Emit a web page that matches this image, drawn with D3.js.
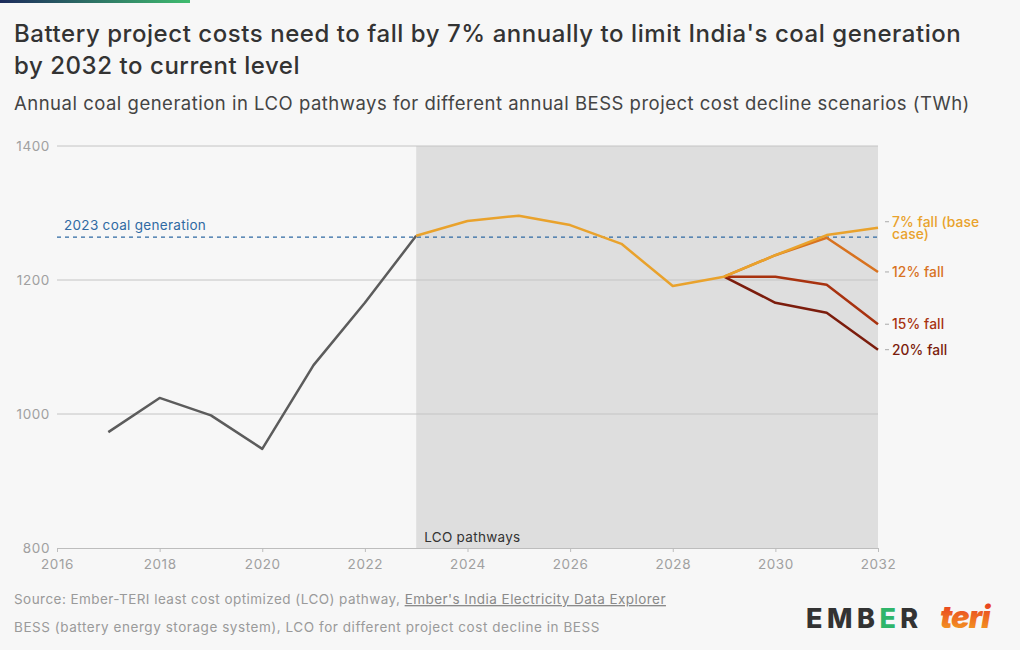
<!DOCTYPE html>
<html><head><meta charset="utf-8">
<script src="https://cdn.jsdelivr.net/npm/d3@7"></script>
<style>
body{margin:0;background:#f7f7f7;}
svg{display:block;font-family:Inter, "Noto Sans", sans-serif;}
</style></head><body>
<svg id="c" width="1020" height="650"></svg>
<script>
const histYears = [2017,2018,2019,2020,2021,2022,2023];
const histValues = [973,1024,998,948,1073,1166,1266];
const scenarioYears = [2023,2024,2025,2026,2027,2028,2029,2030,2031,2032];
const fall7 = [1266,1288,1296,1282,1254,1191,1205,1237,1267,1278];
const fall12Years = [2029,2030,2031,2032];
const fall12 = [1205,1237,1263,1212];
const fall15Years = [2029,2030,2031,2032];
const fall15 = [1205,1205,1193,1134];
const fall20Years = [2029,2030,2031,2032];
const fall20 = [1205,1166,1151,1096];
const coal2023 = 1264;
const yTicks = [800,1000,1200,1400];
const xTicks = [2016,2018,2020,2022,2024,2026,2028,2030,2032];

const svg = d3.select("#c");
const x = d3.scaleLinear().domain([2016,2032]).range([57,878]);
const y = d3.scaleLinear().domain([800,1400]).range([548,146]);

// top gradient bar
const defs = svg.append("defs");
const g = defs.append("linearGradient").attr("id","tg");
g.append("stop").attr("offset","0%").attr("stop-color","#1d2b5c");
g.append("stop").attr("offset","100%").attr("stop-color","#3fbc6f");
svg.append("rect").attr("x",0).attr("y",0).attr("width",190).attr("height",3).attr("fill","url(#tg)");
const tg2 = defs.append("linearGradient").attr("id","teri").attr("x1","0").attr("y1","0").attr("x2","0").attr("y2","1");
tg2.append("stop").attr("offset","0%").attr("stop-color","#e62d1f");
tg2.append("stop").attr("offset","100%").attr("stop-color","#f5a623");

// titles
svg.append("text").attr("x",14).attr("y",42).attr("font-size",24).attr("font-weight",500).attr("letter-spacing",0.55).attr("fill","#333").text("Battery project costs need to fall by 7% annually to limit India's coal generation");
svg.append("text").attr("x",14).attr("y",74).attr("font-size",24).attr("font-weight",500).attr("letter-spacing",0.55).attr("fill","#333").text("by 2032 to current level");
svg.append("text").attr("x",14).attr("y",110).attr("font-size",18.5).attr("font-weight",400).attr("letter-spacing",0.5).attr("fill","#444").text("Annual coal generation in LCO pathways for different annual BESS project cost decline scenarios (TWh)");

// shaded region
svg.append("rect").attr("x",x(2023)).attr("y",y(1400)).attr("width",x(2032)-x(2023)).attr("height",y(800)-y(1400)).attr("fill","#dedede");

// gridlines
svg.append("g").selectAll("line").data(yTicks.filter(d=>d>800)).join("line")
 .attr("x1",57).attr("x2",878).attr("y1",d=>y(d)).attr("y2",d=>y(d)).attr("stroke","#c4c4c4").attr("stroke-width",1);
svg.append("g").selectAll("text").data(yTicks).join("text")
 .attr("x",50).attr("y",d=>y(d)+5).attr("text-anchor","end").attr("font-size",13.5).attr("letter-spacing",0.6).attr("fill","#a0a0a0").text(d=>d);

// x axis
const xa = svg.append("g").attr("transform",`translate(0,${y(800)})`).call(d3.axisBottom(x).tickValues(xTicks).tickFormat(d3.format("d")).tickSize(4).tickSizeOuter(0));
xa.select(".domain").attr("stroke","#bdbdbd");
xa.selectAll(".tick line").attr("stroke","#bdbdbd");
xa.selectAll("text").attr("fill","#a0a0a0").attr("font-size",13.5).attr("letter-spacing",0.6).attr("font-family","Inter, 'Noto Sans', sans-serif").attr("dy","1.05em");

svg.append("text").attr("x",x(2023)+8).attr("y",542).attr("font-size",13.5).attr("letter-spacing",0.3).attr("fill","#333").text("LCO pathways");

// dashed reference
svg.append("line").attr("x1",57).attr("x2",878).attr("y1",y(coal2023)).attr("y2",y(coal2023)).attr("stroke","#2f6aa3").attr("stroke-width",1.2).attr("stroke-dasharray","4,4");
svg.append("text").attr("x",64).attr("y",y(coal2023)-7).attr("font-size",13.5).attr("letter-spacing",0.3).attr("fill","#2f6aa3").text("2023 coal generation");

const line = d3.line().x(d=>x(d[0])).y(d=>y(d[1]));
function draw(years, vals, color){
  svg.append("path").datum(years.map((yr,i)=>[yr,vals[i]])).attr("d",line).attr("fill","none").attr("stroke",color).attr("stroke-width",2.5).attr("stroke-linejoin","round");
}
draw(histYears, histValues, "#5c5c5c");
draw(fall20Years, fall20, "#7b1c0c");
draw(fall15Years, fall15, "#a8320f");
draw(fall12Years, fall12, "#d8721f");
draw(scenarioYears, fall7, "#e9a22c");

// right labels
const labels = [
 {v:fall7[fall7.length-1], lines:["7% fall (base","case)"], c:"#e9a22c", dy:-6},
 {v:fall12[3], lines:["12% fall"], c:"#d8721f", dy:0},
 {v:fall15[3], lines:["15% fall"], c:"#a8320f", dy:0},
 {v:fall20[3], lines:["20% fall"], c:"#7b1c0c", dy:0}
];
labels.forEach(l=>{
  const yy = y(l.v)+l.dy;
  svg.append("line").attr("x1",885).attr("x2",889).attr("y1",yy).attr("y2",yy).attr("stroke","#aaa");
  const t = svg.append("text").attr("x",892).attr("y",yy+5).attr("font-size",13.8).attr("font-weight",500).attr("letter-spacing",0.1).attr("fill",l.c);
  l.lines.forEach((s,i)=>{
    t.append("tspan").attr("x",892).attr("dy",i===0?0:12.5).text(s);
  });
});

// footer
const s = svg.append("text").attr("x",14).attr("y",604).attr("font-size",13.5).attr("letter-spacing",0.45).attr("fill","#9a9a9a");
s.append("tspan").text("Source: Ember-TERI least cost optimized (LCO) pathway, ");
s.append("tspan").attr("text-decoration","underline").attr("fill","#8a8a8a").text("Ember's India Electricity Data Explorer");
svg.append("text").attr("x",14).attr("y",632).attr("font-size",13.5).attr("letter-spacing",0.55).attr("fill","#9a9a9a").text("BESS (battery energy storage system), LCO for different project cost decline in BESS");

// logos
const em = svg.append("text").attr("x",806).attr("y",628).attr("font-size",27).attr("font-weight",800).attr("letter-spacing",4.5).attr("fill","#333");
em.append("tspan").text("EMB");
em.append("tspan").attr("fill","#2fb56a").text("E");
em.append("tspan").text("R");
svg.append("text").attr("x",940).attr("y",628).attr("font-size",31).attr("font-weight",900).attr("font-style","italic").attr("fill","url(#teri)").attr("letter-spacing",-1).text("teri");
</script>
</body></html>
